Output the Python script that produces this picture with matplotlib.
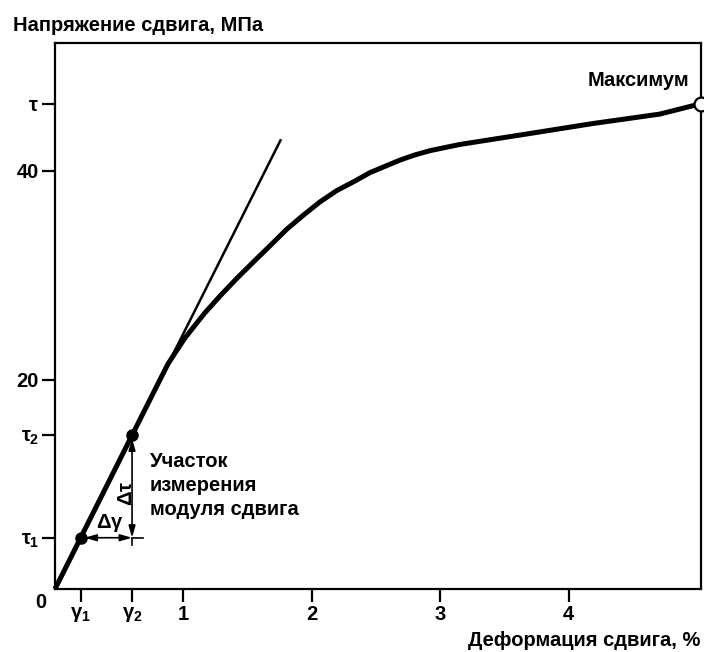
import matplotlib
matplotlib.use("Agg")
import matplotlib.pyplot as plt

plt.rcParams['font.family'] = ['Liberation Sans', 'DejaVu Sans']
plt.rcParams['mathtext.fontset'] = 'custom'
plt.rcParams['mathtext.rm'] = 'Liberation Sans:bold'
plt.rcParams['mathtext.it'] = 'Liberation Sans:bold'

# curve (shear strain %, shear stress MPa)
strain = [0, 0.6, 0.817, 0.879, 0.942, 1.012, 1.089, 1.167, 1.284, 1.416,
          1.556, 1.673, 1.805, 1.93, 2.062, 2.195, 2.335, 2.451, 2.568,
          2.685, 2.802, 2.918, 3.035, 3.152, 3.673, 4.187, 4.708, 5.03]
stress = [0, 14.7, 20.0, 21.5, 22.7, 24.0, 25.2, 26.4, 28.0, 29.7,
          31.4, 32.8, 34.4, 35.7, 37.0, 38.1, 39.0, 39.8, 40.4,
          41.0, 41.5, 41.9, 42.2, 42.5, 43.5, 44.5, 45.4, 46.4]

# tangent through the origin
tangent_x = [0, 1.76]
tangent_y = [0, 43.0]

# measurement points
gamma1, tau1 = 0.2, 4.9
gamma2, tau2 = 0.6, 14.7
max_strain, max_stress = 5.03, 46.4

x_ticks = [gamma1, gamma2, 1, 2, 3, 4]
x_labels = [r'$\gamma_1$', r'$\gamma_2$', '1', '2', '3', '4']
y_ticks = [tau1, tau2, 20, 40, max_stress]
y_labels = [r'$\tau_1$', r'$\tau_2$', '20', '40', r'$\tau$']

FS = 14.5
W, H = 704, 652
fig = plt.figure(figsize=(W / 100, H / 100), dpi=100)
ax = fig.add_axes([55 / W, (H - 589) / H, (701 - 55) / W, (589 - 43) / H])
ax.set_xlim(0, 5.03)
ax.set_ylim(0, 52.2)

for s in ax.spines.values():
    s.set_linewidth(1.6)
ax.tick_params(direction='out', length=9.5, width=1.6, labelsize=FS, pad=2)
ax.set_xticks(x_ticks)
ax.set_xticklabels(x_labels, fontweight='bold')
ax.set_yticks(y_ticks)
ax.set_yticklabels(y_labels, fontweight='bold')

ax.plot(tangent_x, tangent_y, color='black', lw=1.8, solid_capstyle='butt')
ax.plot(strain, stress, color='black', lw=3.6, solid_capstyle='butt',
        solid_joinstyle='round', clip_on=False)
ax.plot([gamma1, gamma2], [tau1, tau2], 'o', color='black', ms=8)
ax.plot([max_strain], [max_stress], 'o', mfc='white', mec='black', ms=10,
        mew=1.6, clip_on=False, zorder=5)

# delta arrows
arr = dict(arrowstyle='<|-|>,head_length=0.7,head_width=0.2', color='black',
           lw=1.2, shrinkA=0, shrinkB=0)
ax.annotate('', xy=(gamma1 + 0.03, tau1), xytext=(gamma2, tau1), arrowprops=arr)
ax.annotate('', xy=(gamma2, tau1), xytext=(gamma2, tau2 - 0.3), arrowprops=arr)
ax.plot([gamma2, gamma2 + 0.085], [tau1, tau1], color='black', lw=1.2)
ax.plot([gamma2, gamma2], [tau1, tau1 - 0.7], color='black', lw=1.2)
ax.text(0.43, 6.3, r'$\Delta\gamma$', fontsize=FS, ha='center', va='center')
ax.text(0.555, 9.1, r'$\Delta\tau$', fontsize=FS, ha='center', va='center',
        rotation=90)

ax.text(0.74, 13.1, 'Участок\nизмерения\nмодуля сдвига', fontsize=FS,
        fontweight='bold', ha='left', va='top', linespacing=1.35)
ax.text(4.94, 48.6, 'Максимум', fontsize=FS, fontweight='bold',
        ha='right', va='center')
ax.text(-0.07, -1.3, '0', fontsize=FS, fontweight='bold', ha='right',
        va='center', clip_on=False)

fig.text(13 / W, 1 - 31 / H, 'Напряжение сдвига, МПа', fontsize=FS,
         fontweight='bold', ha='left', va='baseline')
fig.text(700 / W, 1 - 646 / H, 'Деформация сдвига, %', fontsize=FS,
         fontweight='bold', ha='right', va='baseline')

fig.savefig('out.png', dpi=100)
